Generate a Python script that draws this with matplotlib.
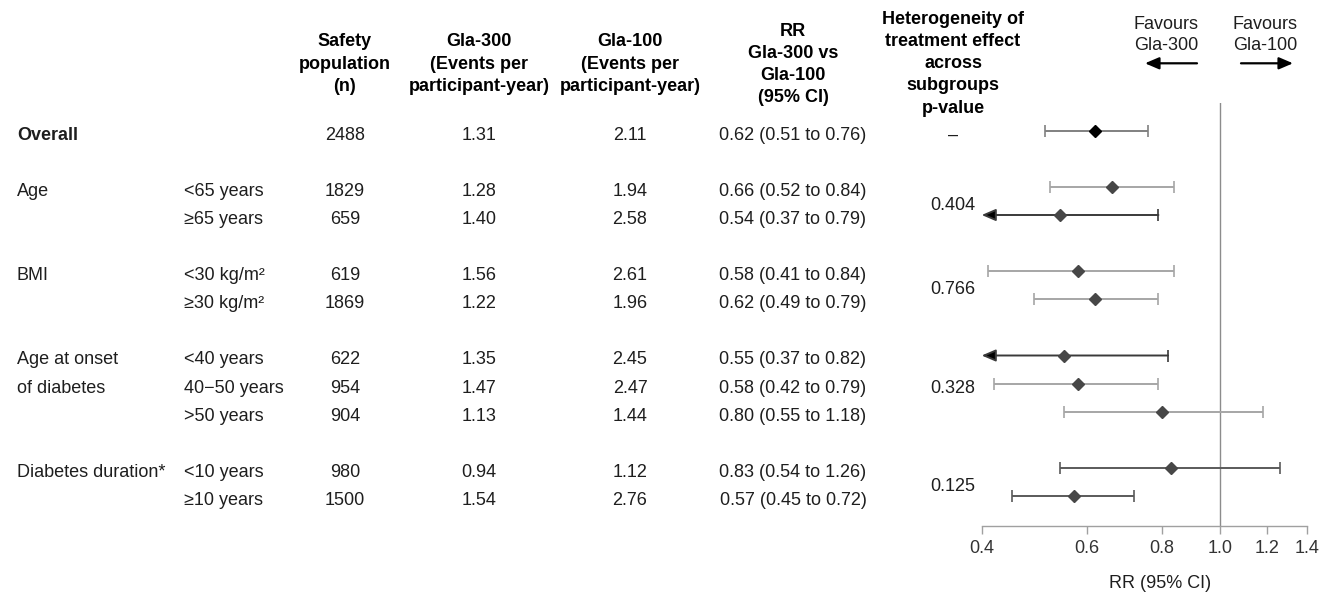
import matplotlib
matplotlib.use("Agg")
import matplotlib.pyplot as plt
import matplotlib.transforms as mtransforms
from matplotlib.ticker import NullLocator, FixedLocator, FixedFormatter

plt.rcParams['font.family'] = ['Liberation Sans', 'DejaVu Sans']

# ---------------- data ----------------
group_labels = ["Overall", "Age", "BMI", "Age at onset\nof diabetes", "Diabetes duration*"]
group_sizes = [1, 2, 2, 3, 2]
group_pvalues = ["\u2013", "0.404", "0.766", "0.328", "0.125"]

subgroups = ["", "<65 years", "\u226565 years", "<30 kg/m\u00b2", "\u226530 kg/m\u00b2",
             "<40 years", "40\u221250 years", ">50 years", "<10 years", "\u226510 years"]
n_safety = [2488, 1829, 659, 619, 1869, 622, 954, 904, 980, 1500]
gla300_rate = [1.31, 1.28, 1.40, 1.56, 1.22, 1.35, 1.47, 1.13, 0.94, 1.54]
gla100_rate = [2.11, 1.94, 2.58, 2.61, 1.96, 2.45, 2.47, 1.44, 1.12, 2.76]
rr = [0.62, 0.66, 0.54, 0.58, 0.62, 0.55, 0.58, 0.80, 0.83, 0.57]
rr_lo = [0.51, 0.52, 0.37, 0.41, 0.49, 0.37, 0.42, 0.55, 0.54, 0.45]
rr_hi = [0.76, 0.84, 0.79, 0.84, 0.79, 0.82, 0.79, 1.18, 1.26, 0.72]

x_ticks = [0.4, 0.6, 0.8, 1.0, 1.2, 1.4]
x_tick_labels = ["0.4", "0.6", "0.8", "1.0", "1.2", "1.4"]

headers = [
    (["Safety", "population", "(n)"], 345, 46.5),
    (["Gla-300", "(Events per", "participant-year)"], 479, 46.5),
    (["Gla-100", "(Events per", "participant-year)"], 630, 46.5),
    (["RR", "Gla-300 vs", "Gla-100", "(95% CI)"], 793, 35.5),
    (["Heterogeneity of", "treatment effect", "across", "subgroups", "p-value"], 953, 23.5),
]

# ---------------- styles ----------------
ci_colors = ["#808080", "#a6a6a6", "#3a3a3a", "#a6a6a6", "#a6a6a6",
             "#3a3a3a", "#a6a6a6", "#a6a6a6", "#5a5a5a", "#5a5a5a"]
marker_colors = ["#000000"] + ["#474747"] * 9
text_color = "#1e1e1e"
FS = 13

W, H = 1330, 595
fig = plt.figure(figsize=(W / 100, H / 100), dpi=100)

ax_left, ax_right, ax_top, ax_bottom = 981.7, 1307.0, 103.0, 525.7
ax = fig.add_axes([ax_left / W, 1 - ax_bottom / H, (ax_right - ax_left) / W, (ax_bottom - ax_top) / H])

# row positions (one blank row between groups)
row_pos = []
r = 0
for s in group_sizes:
    row_pos.extend(range(r, r + s))
    r += s + 1

row0_px, pitch_px = 130.7, 28.1
ax.set_xscale('log')
ax.set_xlim(0.4, 1.4)
ax.set_ylim((ax_bottom - row0_px) / pitch_px, (ax_top - row0_px) / pitch_px)

# forest plot
xmin = ax.get_xlim()[0]
for i, y in enumerate(row_pos):
    c = ci_colors[i]
    lo, hi = rr_lo[i], rr_hi[i]
    if lo < xmin:
        ax.annotate('', xy=(xmin, y), xytext=(hi, y), xycoords='data',
                    arrowprops=dict(arrowstyle='-|>,head_length=0.7,head_width=0.3',
                                    color=c, lw=1.4, shrinkA=0, shrinkB=0,
                                    mutation_scale=12, fc='black', ec=c),
                    annotation_clip=False, zorder=2)
        ax.plot([hi], [y], marker='|', ms=8, mew=1.2, color=c, zorder=2)
    else:
        ax.hlines(y, lo, hi, color=c, lw=1.4, zorder=2)
        ax.plot([lo, hi], [y, y], ls='none', marker='|', ms=8, mew=1.2, color=c, zorder=2)
    ax.plot([rr[i]], [y], marker='D', ms=6.6, color=marker_colors[i], mec=marker_colors[i], zorder=3)

ax.axvline(1.0, color='#8c8c8c', lw=1.0, zorder=1)

for sp in ['top', 'left', 'right']:
    ax.spines[sp].set_visible(False)
ax.spines['bottom'].set_color('#a0a0a0')
ax.spines['bottom'].set_linewidth(1.0)
ax.xaxis.set_major_locator(FixedLocator(x_ticks))
ax.xaxis.set_major_formatter(FixedFormatter(x_tick_labels))
ax.xaxis.set_minor_locator(NullLocator())
ax.tick_params(axis='x', direction='out', length=5.5, width=1.0, color='#a0a0a0',
               labelcolor='#333333', labelsize=FS, pad=5)
ax.set_yticks([])
ax.patch.set_visible(False)

fig.text(1160 / W, 1 - 588 / H, "RR (95% CI)", ha='center', va='baseline',
         fontsize=FS, color=text_color)

# table text
tr = mtransforms.blended_transform_factory(fig.transFigure, ax.transData)
base_off = 9.0 / pitch_px  # baseline below marker centre (rows grow downward)

def put(xpx, y, s, ha='center', bold=False):
    fig.text(xpx / W, y + base_off, s, transform=tr, ha=ha, va='baseline', fontsize=FS,
             color=text_color, fontweight='bold' if bold else 'normal')

for i, y in enumerate(row_pos):
    if subgroups[i]:
        put(184, y, subgroups[i], ha='left')
    put(345, y, str(n_safety[i]))
    put(479, y, f"{gla300_rate[i]:.2f}")
    put(630, y, f"{gla100_rate[i]:.2f}")
    put(793, y, f"{rr[i]:.2f} ({rr_lo[i]:.2f} to {rr_hi[i]:.2f})")

start = 0
for g, s in enumerate(group_sizes):
    rows = row_pos[start:start + s]
    for k, line in enumerate(group_labels[g].split("\n")):
        put(17, rows[k], line, ha='left', bold=(g == 0))
    put(953, sum(rows) / len(rows), group_pvalues[g])
    start += s

# headers
for lines, xc, y0 in headers:
    for k, line in enumerate(lines):
        fig.text(xc / W, 1 - (y0 + 22.3 * k) / H, line, ha='center', va='baseline',
                 fontsize=FS, fontweight='bold', color='#000000')

# favours labels and arrows
for xc, label in [(1166, "Favours\nGla-300"), (1265, "Favours\nGla-100")]:
    for k, line in enumerate(label.split("\n")):
        fig.text(xc / W, 1 - (29 + 21.5 * k) / H, line, ha='center', va='baseline',
                 fontsize=FS, color=text_color)
for x_tail, x_head in [(1197, 1145), (1241, 1293)]:
    fig.add_artist(matplotlib.patches.FancyArrowPatch(
        (x_tail / W, 1 - 63.3 / H), (x_head / W, 1 - 63.3 / H), transform=fig.transFigure,
        arrowstyle='-|>,head_length=0.7,head_width=0.3', mutation_scale=12,
        color='black', lw=1.6, shrinkA=0, shrinkB=0))

fig.savefig("out.png", dpi=100)
